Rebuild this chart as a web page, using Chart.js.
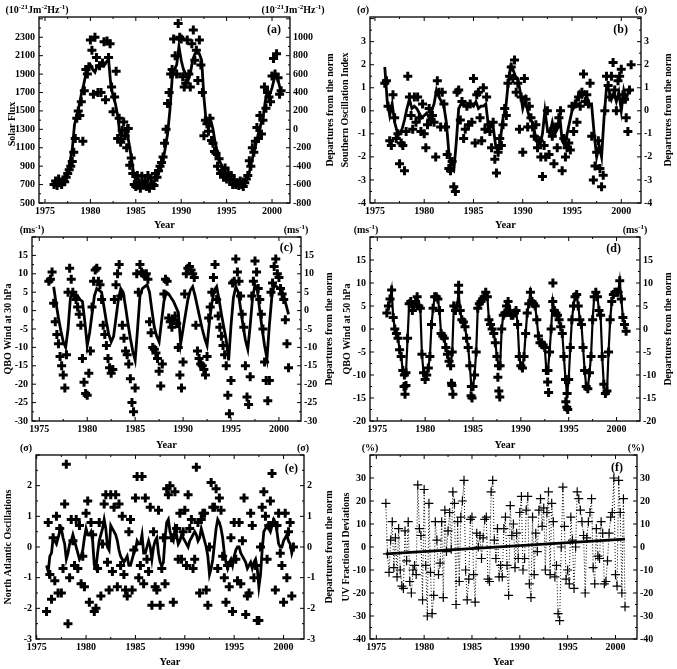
<!DOCTYPE html>
<html>
<head>
<meta charset="utf-8">
<script src="https://cdn.jsdelivr.net/npm/chart.js@4.4.0/dist/chart.umd.min.js"></script>
<style>
  html, body { margin: 0; padding: 0; background: #fff; }
  body { width: 677px; height: 669px; position: relative; overflow: hidden; }
  canvas { position: absolute; }
</style>
</head>
<body>
<canvas id="pa" width="338" height="232" style="left:0;top:0"></canvas>
<canvas id="pb" width="339" height="232" style="left:338px;top:0"></canvas>
<canvas id="pc" width="338" height="230" style="left:0;top:222px"></canvas>
<canvas id="pd" width="339" height="230" style="left:338px;top:222px"></canvas>
<canvas id="pe" width="338" height="229" style="left:0;top:440px"></canvas>
<canvas id="pf" width="339" height="229" style="left:338px;top:440px"></canvas>
<script>
// Six panels of monthly-ish series 1976-2001.
// Points are sampled every 2 months, smoothed curves every 3 months.

const yearTicks = [1975, 1980, 1985, 1990, 1995, 2000];

// (a) solar flux
const solarTicks = [500, 700, 900, 1100, 1300, 1500, 1700, 1900, 2100, 2300];
const solarDepTicks = [-800, -600, -400, -200, 0, 200, 400, 600, 800, 1000];
const solarPoints = [
  700, 740, 690, 760, 720, 700,
  750, 730, 780, 820, 860, 900,
  950, 1050, 1200, 1420, 1500, 1450,
  1600, 1170, 1720, 1950, 1900, 1980,
  2270, 2160, 1680, 2300, 2080, 1700,
  1990, 1700, 2020, 2250, 1620, 2260,
  2080, 2230, 1760, 1490, 1650, 1930,
  1200, 1420, 1160, 1290, 1380, 1230,
  1100, 1310, 910, 990, 820, 700,
  680, 800, 720, 660, 790, 700,
  740, 680, 800, 660, 770, 700,
  690, 820, 780, 850, 900, 940,
  1000, 1150, 1300, 1580, 1700, 1900,
  1950, 2280, 2100, 1900, 2450, 2300,
  2280, 1870, 1760, 1800, 2270, 1900,
  1760, 2230, 2380, 2050, 2160, 1830,
  2270, 2000, 1700, 1230, 1400, 1360,
  1280, 1420, 1180, 1150, 1060, 1040,
  900, 980, 820, 850, 780, 880,
  760, 820, 760, 800, 700, 750,
  700, 720, 690, 740, 700, 680,
  720, 760, 800, 960, 900, 1100,
  1050, 1170, 1320, 1200, 1450, 1250,
  1400, 1760, 1530, 1700, 1650, 1600,
  1880, 2070, 1900, 2120, 1860, 1680,
  1720
];
const solarSmooth = [
  720, 710, 720, 740,
  760, 800, 850, 950,
  1080, 1350, 1450, 1550,
  1680, 1780, 1900, 1960,
  2000, 1950, 1920, 1990,
  2000, 2020, 1990, 2030,
  2060, 1780, 1660, 1580,
  1450, 1250, 1180, 1200,
  1300, 1150, 1000, 820,
  740, 720, 710, 720,
  710, 700, 710, 720,
  730, 760, 820, 880,
  960, 1100, 1250, 1500,
  1850, 1950, 2000, 2200,
  2050, 1950, 1900, 1830,
  1900, 2050, 2120, 2150,
  2120, 2050, 1650, 1380,
  1300, 1400, 1300, 1150,
  1050, 950, 900, 830,
  820, 790, 760, 740,
  720, 710, 700, 720,
  730, 760, 830, 950,
  1050, 1150, 1250, 1350,
  1420, 1600, 1720, 1680,
  1750, 1850, 1880, 1800,
  1700
];

// (b) southern oscillation index
const soiTicks = [-4, -3, -2, -1, 0, 1, 2, 3];
const soiPoints = [
  1.2, 1.3, 0.2, -1.3, -1.5, 0.7,
  -0.3, -1.2, -1.0, -2.3, -1.4, -1.5,
  -2.6, -0.9, 1.5, 0.6, -0.2, -0.8,
  0.6, -0.5, 0.6, -0.3, -0.9, 0.3,
  -1.0, -1.6, -0.6, 0.1, -0.4, -0.2,
  -0.5, -2.0, 1.3, 0.8, -0.7, 0.8,
  0.3, -0.7, -1.9, -2.5, -2.6, -2.2,
  -3.3, -3.5, 0.8, 0.9, -0.4, 0.4,
  -1.2, -0.8, 0.2, -0.6, 0.3, -0.5,
  1.4, -1.4, 0.7, 0.8, -0.3, -1.3,
  1.0, -0.8, 0.6, -0.6, -0.9, -1.6,
  -0.5, -2.1, -2.7, -1.8, -1.2, -1.5,
  -0.6, 0.1, -0.2, 1.2, 1.5, 1.9,
  1.4, 2.2, 0.8, 1.2, -0.8, 0.6,
  -1.8, 1.4, 0.5, -0.7, 0.2, -0.3,
  -0.7, -1.1, -0.6, -1.6, -1.3, -2.0,
  -2.85, -1.5, -2.0, 0.0, -1.9, -0.9,
  -1.1, -2.3, -0.7, -1.6, -0.3, 0.0,
  -2.6, -1.2, -2.0, -1.6, -1.4, -1.7,
  0.2, -0.9, 0.3, -0.5, 0.6, 0.2,
  0.8, 1.6, 0.4, 0.7, 0.3, 1.2,
  -1.1, -3.0, -2.4, -1.8, -1.3, -2.5,
  -3.3, -2.8, 0.0, 1.5, 1.1, 0.6,
  1.5, 2.1, 0.9, 0.0, 1.3, 1.5,
  1.8, 0.7, 0.5, -0.3, -0.9, 0.9,
  2.0
];
const soiSmooth = [
  1.9, 0.4, -0.2, 0.3,
  -0.5, -0.9, -1.0, -0.8,
  -0.4, 0.1, 0.5, 0.1,
  0.2, 0.1, -0.1, -0.3,
  -0.2, -0.1, -0.3, 0.0,
  0.3, 0.9, 0.6, 0.4,
  0.2, -0.5, -1.8, -2.5,
  -2.6, -1.4, 0.1, 0.3,
  0.3, 0.2, 0.2, 0.3,
  0.2, 0.4, 0.1, 0.2,
  0.2, 0.3, -0.6, -0.7,
  -0.7, -1.5, -1.8, -1.2,
  -0.3, 0.0, 1.1, 1.9,
  1.8, 1.5, 1.4, 0.8,
  0.1, 0.5, 0.0, -0.4,
  -0.5, -1.0, -1.4, -1.5,
  -1.0, 0.0, -0.8, -1.0,
  -0.5, -1.0, -0.8, -0.2,
  -1.3, -1.5, -1.0, -0.5,
  0.0, 0.2, 0.5, 0.8,
  0.6, 0.8, 0.6, 0.3,
  0.2, -1.0, -2.0, -1.5,
  -2.0, -0.3, 1.0, 0.9,
  0.5, 0.8, 0.4, 0.8,
  0.0, 0.9, 0.5, 0.9,
  0.8
];

// (c) QBO wind at 30 hPa
const qbo30Ticks = [-30, -25, -20, -15, -10, -5, 0, 5, 10, 15];
const qbo30Points = [
  8.0, 8.5, 10.5, 2.0, -3.0, -6.5,
  -9.0, -12.5, -15.0, -17.5, -21.0, -12.0,
  5.0, 11.5, 8.5, 5.0, 4.0, 3.0,
  1.0, -1.0, -4.0, -13.0, -19.5, -22.5,
  -23.0, -17.0, -11.0, 1.0, 8.0, 11.0,
  11.5, 8.0, 7.0, 3.0, -4.0, -6.5,
  -9.5, -13.0, -15.5, -17.0, -16.0, 3.0,
  7.0, 10.0, 12.5, 4.0, -4.0, -7.5,
  -11.0, -12.0, -14.5, -18.5, -25.0, -27.5,
  -21.0, 10.0, 5.0, 12.5, 10.5, 10.0,
  9.5, 10.0, 8.5, -3.0, -6.0, -10.0,
  -10.5, -11.5, -13.0, -16.5, -20.5, -14.5,
  4.5, 8.5, 8.0, -2.0, -3.0, -4.5,
  -2.5, -1.5, -3.5, -10.0, -17.5, -21.0,
  -14.0, 4.5, 10.0, 11.5, 12.0, 11.0,
  10.0, 9.0, -4.0, -11.0, -13.0, -14.5,
  -15.0, -16.0, -17.5, -12.5, -2.0, 1.0,
  5.0, 9.0, 12.5, 3.0, -1.5, -4.5,
  -7.0, -9.5, -12.0, -15.0, -23.0, -28.0,
  -19.0, 7.5, 8.0, 14.0, 10.5, 8.0,
  4.0, -1.0, -4.5, -15.0, -23.5, -25.5,
  -18.0, 4.0, 8.0, 13.5, 10.5, 6.0,
  3.0, -1.0, -5.0, -14.0, -19.0, -24.5,
  -19.0, 5.0, 7.5, 12.0, 14.0, 10.0,
  9.0, 6.0, 4.5, 3.0, -2.5, -9.0,
  -15.5
];
const qbo30SmoothStart = 1976.5;
const qbo30Smooth = [
  6.5, 2.0,
  -2.0, -5.5, -8.5, -10.0,
  -5.0, 3.5, 5.0, 4.5,
  4.0, 3.0, 2.5, -3.0,
  -9.5, -6.0, -1.0, 4.0,
  6.0, 5.5, 5.0, 1.0,
  -3.0, -6.5, -8.5, -7.0,
  -2.0, 3.0, 6.0, 5.0,
  1.0, -3.5, -7.5, -11.0,
  -13.5, -5.0, 4.0, 6.0,
  6.5, 7.0, 5.0, 0.0,
  -4.5, -7.0, -8.5, -3.0,
  2.5, 5.0, 4.5, 3.5,
  2.5, 1.0, -0.5, -9.0,
  -5.0, -1.0, 3.0, 5.5,
  6.5, 4.0, 1.0, -2.0,
  -5.0, -7.5, -9.5, -3.0,
  2.0, 5.5, 6.5, 3.0,
  -1.0, -4.5, -8.0, -13.5,
  -4.0, 3.5, 6.5, 5.0,
  0.5, -4.0, -8.0, -10.5,
  -4.0, 3.5, 7.0, 5.5,
  0.0, -5.0, -9.5, -13.0,
  -4.0, 3.5, 7.0, 6.5,
  6.0, 5.5, 4.0, 1.5,
  -1.0
];

// (d) QBO wind at 50 hPa
const qbo50Ticks = [-20, -15, -10, -5, 0, 5, 10, 15];
const qbo50Values = [
  3.5, 5.0, 6.5, 8.5, 2.5, 0.0,
  -1.0, -2.0, -4.5, -6.0, -9.0, -10.0,
  -9.5, -2.0, 5.5, 6.0, 4.0, 5.0,
  6.0, 7.0, 5.0, 4.5, -5.5, -9.5,
  -11.0, -10.0, -8.5, -6.0, 1.0, 4.5,
  7.0, 7.0, 6.5, 4.0, -1.0, -1.5,
  -2.0, -4.0, -5.5, -7.0, -8.0, -5.0,
  5.0, 4.0, 5.0, 8.0, 4.0, 2.0,
  1.5, 0.5, -2.0, -4.0, -8.0, -12.5,
  -12.5, -10.0, -5.0, 4.5, 5.5, 6.0,
  6.5, 7.0, 8.0, 7.0, 2.0, 1.0,
  0.0, -1.0, -3.0, -6.0, -8.0, -8.0,
  0.0, 3.0, 3.5, 5.0, 6.0, 4.0,
  3.0, 3.0, 3.5, 4.0, 1.0, -6.0,
  -8.0, -8.5, -6.0, -1.0, 3.5, 5.5,
  8.0, 6.0, 5.5, 5.0, 2.0, -1.5,
  -3.0, -3.0, -3.5, -4.0, -9.0, -9.0,
  -5.0, 0.0, 6.0, 4.0, 3.5, 3.0,
  2.0, 0.5, -1.0, -6.0, -11.0, -14.0,
  -11.0, -4.0, 2.0, 5.0, 7.0, 7.5,
  5.0, 2.0, 1.0, -4.0, -9.0, -12.5,
  -13.0, -9.5, -6.0, 2.0, 7.0, 8.0,
  7.0, 4.0, 3.0, -6.0, -12.0, -14.0,
  -13.5, -5.0, 2.0, 6.0, 7.5, 8.0,
  8.0, 8.0, 10.5, 6.5, 2.5, 1.0,
  -0.5
];
const qbo50ExtraYears = [1977.8, 1977.9, 1978.0, 1982.75, 1982.8, 1982.9, 1984.8, 1984.9,
  1987.6, 1987.7, 1987.8, 1992.8, 1992.9, 1994.7, 1994.8, 1994.9, 1983.5, 1993.35];
const qbo50ExtraValues = [-12.5, -14.2, -12.3, -11.8, -12.3, -14.2, -14.5, -15.0,
  -10.5, -13.5, -14.8, -11.5, -13.8, -15.8, -17.0, -17.5, 9.5, 10.0];

// (e) North Atlantic oscillation
const naoTicks = [-3, -2, -1, 0, 1, 2];
const naoPoints = [
  -2.1, 0.8, -0.9, -1.7, 0.3, -1.1,
  1.0, -1.5, 0.6, -1.5, -0.7, 1.4,
  2.7, -2.5, -1.0, 0.9, 0.2, -0.6,
  0.9, -0.7, 0.7, -1.2, -0.3, -1.3,
  1.1, 1.5, -1.8, 0.8, 0.4, -2.1,
  -2.0, -0.7, 0.8, -1.6, 0.1, 1.4,
  1.7, -0.5, -1.4, 1.7, -0.8, 1.3,
  1.7, -1.3, 1.4, -0.6, 1.0, -0.9,
  -1.4, -1.6, 0.5, 0.9, -1.4, -0.1,
  1.6, 2.3, -1.0, -0.6, 2.3, -1.2,
  1.6, -0.4, -0.8, 1.3, -1.9, 0.5,
  -1.3, -1.4, 1.2, -1.9, -0.7, 0.3,
  -1.2, 1.9, 1.7, 2.0, 0.3, -1.8,
  1.8, 0.6, -0.4, 1.1, -0.4, 0.5,
  1.2, -0.6, 1.7, 0.6, 0.9, -0.7,
  -0.4, 2.6, 0.8, -1.5, 0.9, 1.1,
  1.1, -1.4, -1.9, 0.0, 2.1, 1.3,
  1.3, 1.9, -0.7, 1.6, 1.2, -0.3,
  -1.0, -1.8, -0.6, -1.3, 0.3, -2.1,
  0.8, -0.4, -1.1, 0.8, -1.2, 0.2,
  1.6, -2.2, -1.6, -1.5, 1.1, 0.7,
  -1.0, -0.6, -2.4, -2.4, 0.0, 1.3,
  1.8, 1.0, -0.4, 0.7, 1.5, 2.4,
  0.8, -1.4, 0.7, 1.1, -0.2, -0.6,
  -1.8, 1.1, -1.0, 0.5, 0.8, -1.6,
  0.0
];
const naoSmooth = [
  -0.6, -0.8, -0.3, -0.2, 0.3, 0.2,
  0.1, 0.3, 0.5, 0.6, 0.3, 0.1,
  -0.4, -0.2, 0.1, 0.2, 0.4, 0.2,
  0.0, -0.2, -0.4, -0.3, -0.1, 0.3,
  0.6, 0.4, 0.4, 0.5, 0.2, -0.6,
  -0.7, -0.2, 0.2, 0.4, 0.6, 0.9,
  0.6, 0.0, -0.1, 0.7, 0.6, 0.5,
  0.4, 0.2, -0.1, -0.3, -0.4, -0.5,
  -0.4, -0.3, -0.6, -0.6, -0.4, -0.2,
  -0.1, 0.2, 0.1, 0.1, 0.4, -0.2,
  -0.2, 0.0, 0.2, 0.0, -0.4, 0.0,
  0.2, 0.3, -0.2, -0.5, -0.6, -0.5,
  0.3, 0.8, 0.9, 0.5, 0.3, 0.2,
  0.6, 0.4, 0.1, 0.2, 0.4, 0.3,
  0.2, 0.1, 0.0, 0.2, 0.3, 0.4,
  0.5, 0.4, 0.2, 0.3, 0.6, 0.4,
  0.2, 0.0, -0.3, -0.9, -0.7, -0.4,
  0.1, 0.6, 0.9, 0.8, 0.6, 0.3,
  -0.2, -0.5, -0.7, -0.5, -0.4, -0.6,
  -0.3, -0.1, 0.0, 0.0, -0.2, -0.3,
  -0.4, -0.5, -0.7, -0.6, -0.5, -0.7,
  -0.5, -0.4, -0.7, -1.3, -0.9, -0.1,
  0.5, 0.6, 0.7, 0.6, 0.5, 0.7,
  0.9, 0.8, 0.5, 0.1, 0.0, 0.0,
  0.2, 0.3, 0.4, 0.2, 0.1, -0.2,
  0.0
];

// (f) UV fractional deviations
const uvTicks = [-40, -30, -20, -10, 0, 10, 20, 30];
const uvValues = [
  19, -3, -11, 3, 11, -9,
  4, -13, 8, -10, -17, -18,
  7, -6, 11, -15, -20, -10,
  -8, -12, 27, 8, 5, -23,
  25, -8, -30, 19, -11, -29,
  -21, 11, 3, -12, -7, 11,
  -22, 16, -2, 7, 15, -1,
  24, 19, -25, 11, -15, 13,
  20, 29, -10, -23, -14, 12,
  13, -12, -24, 6, 0, 5,
  -5, 4, 12, 13, -14, -15,
  24, 29, 3, -5, 8, -13,
  -8, -13, 8, 13, -8, -21,
  18, 5, 10, -9, 6, -5,
  15, 22, -10, -5, 16, 22,
  -16, -22, 13, -12, 6, -2,
  16, 21, 9, 17, -10, 15,
  24, -12, 19, 11, -13, -8,
  -29, -32, 0, 26, 9, -14,
  -10, -16, 13, 3, -18, 0,
  24, 21, 16, 11, 5, -20,
  4, 11, 15, 21, -9, -16,
  8, -4, -5, 11, 6, -16,
  -15, -6, 6, 13, 15, 30,
  -12, -17, 29, 15, -20, 21,
  -26
];
const uvTrendYears = [1976, 2001];
const uvTrendValues = [-3.0, 3.4];

const START = 1976;
const BIMONTH = 1 / 6;
const QUARTER = 0.25;

const FONT = "'Liberation Serif', 'Times New Roman', serif";
const tickFont = { family: FONT, size: 10, weight: 'bold' };

function series(values, start, step) {
  return values.map((v, i) => ({ x: start + i * step, y: v }));
}
function pairs(xs, ys) {
  return xs.map((x, i) => ({ x: x, y: ys[i] }));
}

function crosses(data, width, radius) {
  return {
    data: data, yAxisID: 'y', showLine: false,
    pointStyle: 'cross', pointRadius: radius || 4.5,
    pointBorderWidth: width || 3,
    borderColor: '#000', backgroundColor: '#000'
  };
}
function curve(data, width) {
  return {
    data: data, yAxisID: 'y', showLine: true, pointRadius: 0,
    borderColor: '#000', borderWidth: width || 2.8, tension: 0
  };
}

function drawRich(ctx, parts, cx, y) {
  let w = 0;
  parts.forEach(p => {
    ctx.font = p[1] ? 'bold 7px ' + FONT : 'bold 10px ' + FONT;
    w += ctx.measureText(p[0]).width;
  });
  let x = cx - w / 2;
  ctx.textAlign = 'left';
  ctx.textBaseline = 'alphabetic';
  parts.forEach(p => {
    ctx.font = p[1] ? 'bold 7px ' + FONT : 'bold 10px ' + FONT;
    ctx.fillText(p[0], x, p[1] ? y - 4 : y);
    x += ctx.measureText(p[0]).width;
  });
}

function vText(ctx, text, x, y) {
  ctx.save();
  ctx.translate(x, y);
  ctx.rotate(-Math.PI / 2);
  ctx.font = 'bold 10px ' + FONT;
  ctx.textAlign = 'center';
  ctx.textBaseline = 'middle';
  ctx.fillText(text, 0, 0);
  ctx.restore();
}

// box, inward ticks, units, panel letter and axis titles
const framePlugin = {
  id: 'frame',
  afterDraw(chart, args, o) {
    const { ctx, chartArea: a, scales } = chart;
    ctx.save();
    ctx.strokeStyle = '#000';
    ctx.fillStyle = '#000';
    ctx.lineWidth = 1.3;
    ctx.strokeRect(a.left, a.top, a.right - a.left, a.bottom - a.top);

    const marks = scale => {
      const vals = scale.ticks.map(t => t.value);
      const half = (vals[1] - vals[0]) / 2;
      const out = [];
      for (let k = -1; ; k++) {
        const v = vals[0] + k * half;
        if (v > scale.max + 1e-9) break;
        if (v >= scale.min - 1e-9) out.push([scale.getPixelForValue(v), k % 2 === 0 ? 4 : 2]);
      }
      return out;
    };
    ctx.lineWidth = 1;
    ctx.beginPath();
    marks(scales.x).forEach(([p, len]) => {
      ctx.moveTo(p, a.bottom); ctx.lineTo(p, a.bottom - len);
      ctx.moveTo(p, a.top); ctx.lineTo(p, a.top + len);
    });
    marks(scales.y).forEach(([p, len]) => { ctx.moveTo(a.left, p); ctx.lineTo(a.left + len, p); });
    marks(scales.y2).forEach(([p, len]) => { ctx.moveTo(a.right, p); ctx.lineTo(a.right - len, p); });
    ctx.stroke();

    drawRich(ctx, o.units, o.unitsLX, a.top - 4);
    drawRich(ctx, o.units, o.unitsRX, a.top - 4);

    ctx.font = 'bold 12px ' + FONT;
    ctx.textAlign = 'right';
    ctx.textBaseline = 'alphabetic';
    ctx.fillText(o.label, a.right - o.labelDX, a.top + o.labelDY);

    const mid = (a.top + a.bottom) / 2;
    vText(ctx, o.titleL, o.titleLX, mid + (o.titleLDY || 0));
    if (o.titleR) vText(ctx, o.titleR, o.titleRX, mid);
    ctx.restore();
  }
};

function buildChart(id, c) {
  const ticksFrom = list => s => { s.ticks = list.map(v => ({ value: v })); };
  const yTick = { autoSkip: false, color: '#000', font: tickFont, callback: v => String(v) };
  return new Chart(document.getElementById(id), {
    type: 'scatter',
    data: { datasets: c.datasets },
    options: {
      responsive: false,
      animation: false,
      events: [],
      layout: { padding: { top: c.padTop, left: 0, right: 0, bottom: 0 }, autoPadding: false },
      plugins: { legend: { display: false }, tooltip: { enabled: false }, frame: c.frame },
      scales: {
        x: {
          type: 'linear', position: 'bottom', min: c.xMin, max: c.xMax,
          afterBuildTicks: ticksFrom(yearTicks),
          afterFit: s => { s.height = c.xH; },
          grid: { display: false, drawTicks: false },
          border: { display: false },
          ticks: { autoSkip: false, maxRotation: 0, color: '#000', font: tickFont, padding: 2, callback: v => String(v) },
          title: { display: true, text: 'Year', color: '#000', font: { family: FONT, size: 10.5, weight: 'bold' }, padding: { top: 0, bottom: 0 } }
        },
        y: {
          type: 'linear', position: 'left', min: c.yMin, max: c.yMax,
          afterBuildTicks: ticksFrom(c.yTicks),
          afterFit: s => { s.width = c.yW; },
          grid: { display: false, drawTicks: false },
          border: { display: false },
          ticks: Object.assign({ padding: 4 }, yTick)
        },
        y2: {
          type: 'linear', position: 'right', min: c.y2Min, max: c.y2Max,
          afterBuildTicks: ticksFrom(c.y2Ticks),
          afterFit: s => { s.width = c.y2W; },
          grid: { display: false, drawTicks: false },
          border: { display: false },
          ticks: Object.assign({ padding: 3 }, yTick)
        }
      }
    },
    plugins: [framePlugin]
  });
}

const DEP = 'Departures from the norm';
const sigma = [['(\u03c3)', 0]];

buildChart('pa', {
  datasets: [crosses(series(solarPoints, START, BIMONTH)), curve(series(solarSmooth, START, QUARTER))],
  padTop: 17, xH: 29, yW: 39, y2W: 48,
  xMin: 1974.34, xMax: 2001.98,
  yMin: 500, yMax: 2520, yTicks: solarTicks,
  y2Min: -800, y2Max: 1220, y2Ticks: solarDepTicks,
  frame: {
    units: [['(10', 0], ['-21', 1], ['Jm', 0], ['-2', 1], ['Hz', 0], ['-1', 1], [')', 0]],
    unitsLX: 37, unitsRX: 293, label: '(a)', labelDX: 9, labelDY: 16,
    titleL: 'Solar Flux', titleLX: 12.5, titleLDY: 14, titleR: DEP, titleRX: 330
  }
});

buildChart('pb', {
  datasets: [crosses(series(soiPoints, START, BIMONTH)), curve(series(soiSmooth, START, QUARTER))],
  padTop: 17, xH: 29, yW: 32, y2W: 36,
  xMin: 1974.5, xMax: 2002.0,
  yMin: -4, yMax: 4.07, yTicks: soiTicks,
  y2Min: -4, y2Max: 4.07, y2Ticks: soiTicks,
  frame: {
    units: sigma, unitsLX: 25, unitsRX: 303, label: '(b)', labelDX: 13, labelDY: 16,
    titleL: 'Southern Oscillation Index', titleLX: 7, titleR: DEP, titleRX: 330
  }
});

buildChart('pc', {
  datasets: [crosses(series(qbo30Points, START, BIMONTH)), curve(series(qbo30Smooth, qbo30SmoothStart, QUARTER))],
  padTop: 15, xH: 31, yW: 32, y2W: 37,
  xMin: 1974.24, xMax: 2002.3,
  yMin: -30, yMax: 20, yTicks: qbo30Ticks,
  y2Min: -30, y2Max: 20, y2Ticks: qbo30Ticks,
  frame: {
    units: [['(ms', 0], ['-1', 1], [')', 0]], unitsLX: 32, unitsRX: 296, label: '(c)', labelDX: 8, labelDY: 14,
    titleL: 'QBO Wind at 30 hPa', titleLX: 8.5, titleR: DEP, titleRX: 329
  }
});

buildChart('pd', {
  datasets: [
    Object.assign(crosses(series(qbo50Values, START, BIMONTH)), { showLine: true, borderWidth: 2.2 }),
    crosses(pairs(qbo50ExtraYears, qbo50ExtraValues))
  ],
  padTop: 15, xH: 31, yW: 32, y2W: 37,
  xMin: 1974.24, xMax: 2002.45,
  yMin: -20, yMax: 20, yTicks: qbo50Ticks,
  y2Min: -20, y2Max: 20, y2Ticks: qbo50Ticks,
  frame: {
    units: [['(ms', 0], ['-1', 1], [')', 0]], unitsLX: 28, unitsRX: 297, label: '(d)', labelDX: 19, labelDY: 15,
    titleL: 'QBO Wind at 50 hPa', titleLX: 9, titleR: DEP, titleRX: 330
  }
});

buildChart('pe', {
  datasets: [crosses(series(naoPoints, START, BIMONTH)), curve(series(naoSmooth, START, BIMONTH))],
  padTop: 15, xH: 30, yW: 36, y2W: 34,
  xMin: 1974.93, xMax: 2002.07,
  yMin: -3, yMax: 3, yTicks: naoTicks,
  y2Min: -3, y2Max: 3, y2Ticks: naoTicks,
  frame: {
    units: sigma, unitsLX: 26, unitsRX: 303, label: '(e)', labelDX: 6, labelDY: 17,
    titleL: 'North Atlantic Oscillations', titleLX: 8, titleR: DEP, titleRX: 329
  }
});

buildChart('pf', {
  datasets: [
    Object.assign(crosses(series(uvValues, START, BIMONTH), 1.2, 4.5), { showLine: true, borderWidth: 1, borderDash: [1, 2] }),
    curve(pairs(uvTrendYears, uvTrendValues))
  ],
  padTop: 15, xH: 30, yW: 32, y2W: 40,
  xMin: 1974.34, xMax: 2002.25,
  yMin: -40, yMax: 40, yTicks: uvTicks,
  y2Min: -40, y2Max: 40, y2Ticks: uvTicks,
  frame: {
    units: [['(%)', 0]], unitsLX: 32, unitsRX: 298, label: '(f)', labelDX: 14, labelDY: 16,
    titleL: 'UV Fractional Deviations', titleLX: 8
  }
});
</script>
</body>
</html>
